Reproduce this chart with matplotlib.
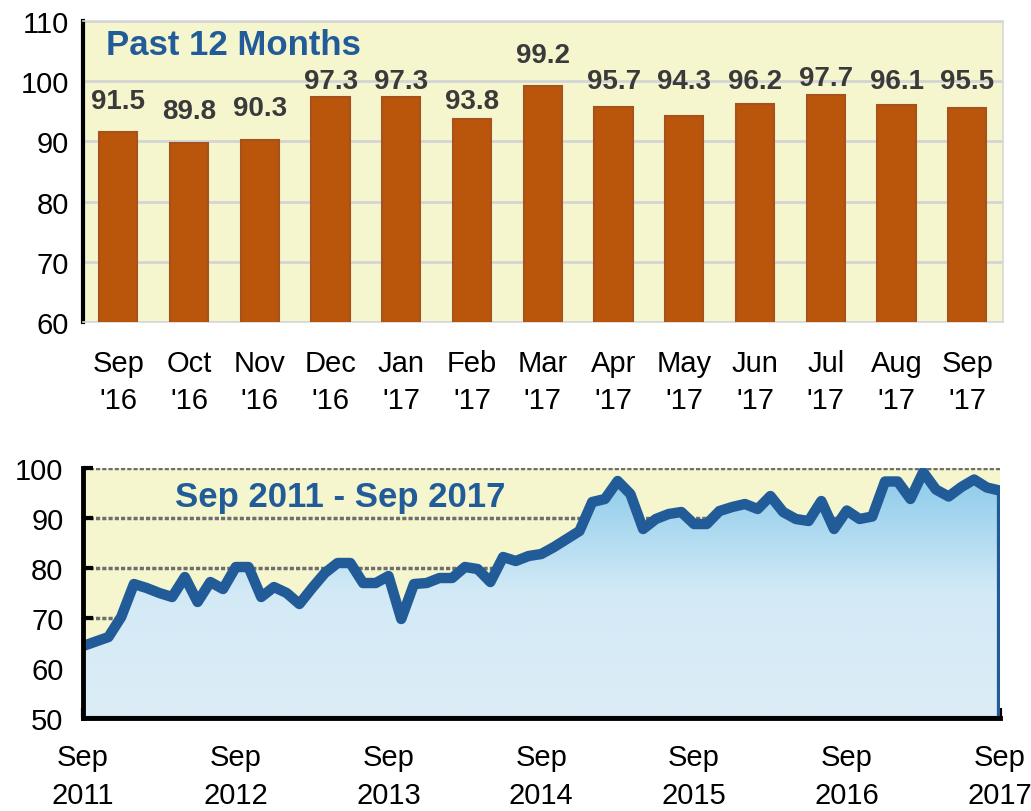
import matplotlib.pyplot as plt
import matplotlib.font_manager as fm
import numpy as np
from matplotlib.colors import LinearSegmentedColormap

# pick a narrow face if there is one
names = set(f.name for f in fm.fontManager.ttflist)
narrow = 'Liberation Sans Narrow' if 'Liberation Sans Narrow' in names else 'Liberation Sans'
plt.rcParams['font.family'] = [narrow, 'DejaVu Sans']

# top panel: past 12 months
months = ["Sep\n'16", "Oct\n'16", "Nov\n'16", "Dec\n'16", "Jan\n'17", "Feb\n'17", "Mar\n'17",
          "Apr\n'17", "May\n'17", "Jun\n'17", "Jul\n'17", "Aug\n'17", "Sep\n'17"]
recent = [91.5, 89.8, 90.3, 97.3, 97.3, 93.8, 99.2, 95.7, 94.3, 96.2, 97.7, 96.1, 95.5]

# bottom panel: monthly, Sep 2011 - Sep 2017
history = [64.4, 65.3, 66.2, 70.2,
           76.8, 76.0, 75.0, 74.2, 78.2, 73.2, 77.2, 75.8, 80.2, 80.2, 74.2, 76.2,
           75.0, 72.8, 76.0, 79.0, 81.0, 81.0, 77.0, 77.0, 78.4, 69.8, 76.8, 77.0,
           78.0, 78.0, 80.2, 79.8, 77.2, 82.2, 81.4, 82.4, 82.8, 84.2, 85.8, 87.4,
           93.2, 93.8, 97.4, 94.8, 87.8, 89.8, 90.8, 91.2, 88.8, 88.8, 91.4, 92.2,
           92.8, 91.8, 94.4, 91.2, 89.8, 89.4, 93.4, 87.8] + recent
year_labels = ['Sep\n2011', 'Sep\n2012', 'Sep\n2013', 'Sep\n2014', 'Sep\n2015', 'Sep\n2016', 'Sep\n2017']

bg = '#F5F5CE'
blue = '#215C99'
bar_col = '#B9560B'
tick_fs = 21

fig = plt.figure(figsize=(10.31, 8.12), dpi=100)

# ---- top
ax = fig.add_axes([0.0805, 0.602, 0.892, 0.371])
ax.set_facecolor(bg)
x = np.arange(len(recent))
ax.bar(x, recent, width=0.54, color=bar_col, edgecolor='#A5521C', linewidth=1.5, zorder=3)
for i, v in enumerate(recent):
    # labels sit above the bars, nudged into rows like the original
    if v < 94:
        ly = min(v + 5.2, 96.7)
    elif v > 98.5:
        ly = v + 5.2
    else:
        ly = max(v + 2.8, 100)
    ax.text(i, ly, '%.1f' % v, ha='center', va='center', fontsize=20,
            fontweight='bold', color='#3A3A3A', zorder=4)
ax.set_ylim(60, 110)
ax.set_xlim(-0.5, 12.5)
ax.set_yticks(range(60, 111, 10))
ax.yaxis.grid(True, color='#D4D4D4', linewidth=2)
ax.set_axisbelow(True)
ax.set_xticks(x)
ax.set_xticklabels(months, fontsize=tick_fs, linespacing=1.45)
ax.tick_params(axis='y', labelsize=tick_fs, length=0, pad=10)
ax.tick_params(axis='x', length=0, pad=19)
for s in ['top', 'right', 'bottom']:
    ax.spines[s].set_color('#D8D8D8')
    ax.spines[s].set_linewidth(1.2)
ax.spines['left'].set_color('black')
ax.spines['left'].set_linewidth(3)
ax.text(0.025, 0.975, 'Past 12 Months', transform=ax.transAxes, fontsize=25,
        fontweight='bold', color=blue, va='top', ha='left')

# ---- bottom
ax2 = fig.add_axes([0.0805, 0.1145, 0.889, 0.3079])
ax2.set_facecolor(bg)
t = np.arange(len(history))
ax2.set_xlim(0, len(history) - 1)
ax2.set_ylim(50, 100)
for g in [70, 80, 90, 100]:
    ax2.axhline(g, color='#6E6E6E', linewidth=2.5, linestyle=(0, (1.2, 0.6)), zorder=1)

poly = ax2.fill_between(t, history, 50, color='none', zorder=2)
cmap = LinearSegmentedColormap.from_list('sky', ['#DCEDF6', '#D3EAF6', '#88C9EA'])
grad = np.linspace(0, 1, 256).reshape(-1, 1)
img = ax2.imshow(grad, cmap=cmap, aspect='auto', origin='lower',
                 extent=[0, len(history) - 1, 50, 100], zorder=2)
img.set_clip_path(poly.get_paths()[0], transform=ax2.transData)
ax2.plot(t, history, color=blue, linewidth=7.5, solid_joinstyle='round', zorder=4)
ax2.plot([t[-1], t[-1]], [50, history[-1]], color=blue, linewidth=4.5, zorder=4)
ax2.axhline(50, color=blue, linewidth=3, zorder=3)

ax2.set_xticks(range(0, len(history), 12))
ax2.set_xticklabels(year_labels, fontsize=tick_fs, linespacing=1.45)
ax2.set_yticks(range(50, 101, 10))
ax2.tick_params(axis='y', labelsize=tick_fs, direction='in', length=7, width=3, pad=14)
ax2.tick_params(axis='x', direction='in', length=7, width=3, pad=18)
for s in ['top', 'right']:
    ax2.spines[s].set_visible(False)
for s in ['left', 'bottom']:
    ax2.spines[s].set_color('black')
    ax2.spines[s].set_linewidth(3.5)
    ax2.spines[s].set_zorder(5)
ax2.text(0.1, 0.885, 'Sep 2011 - Sep 2017', transform=ax2.transAxes, fontsize=25,
         fontweight='bold', color=blue, va='center', ha='left', zorder=6)

fig.savefig('out.png', dpi=100)
